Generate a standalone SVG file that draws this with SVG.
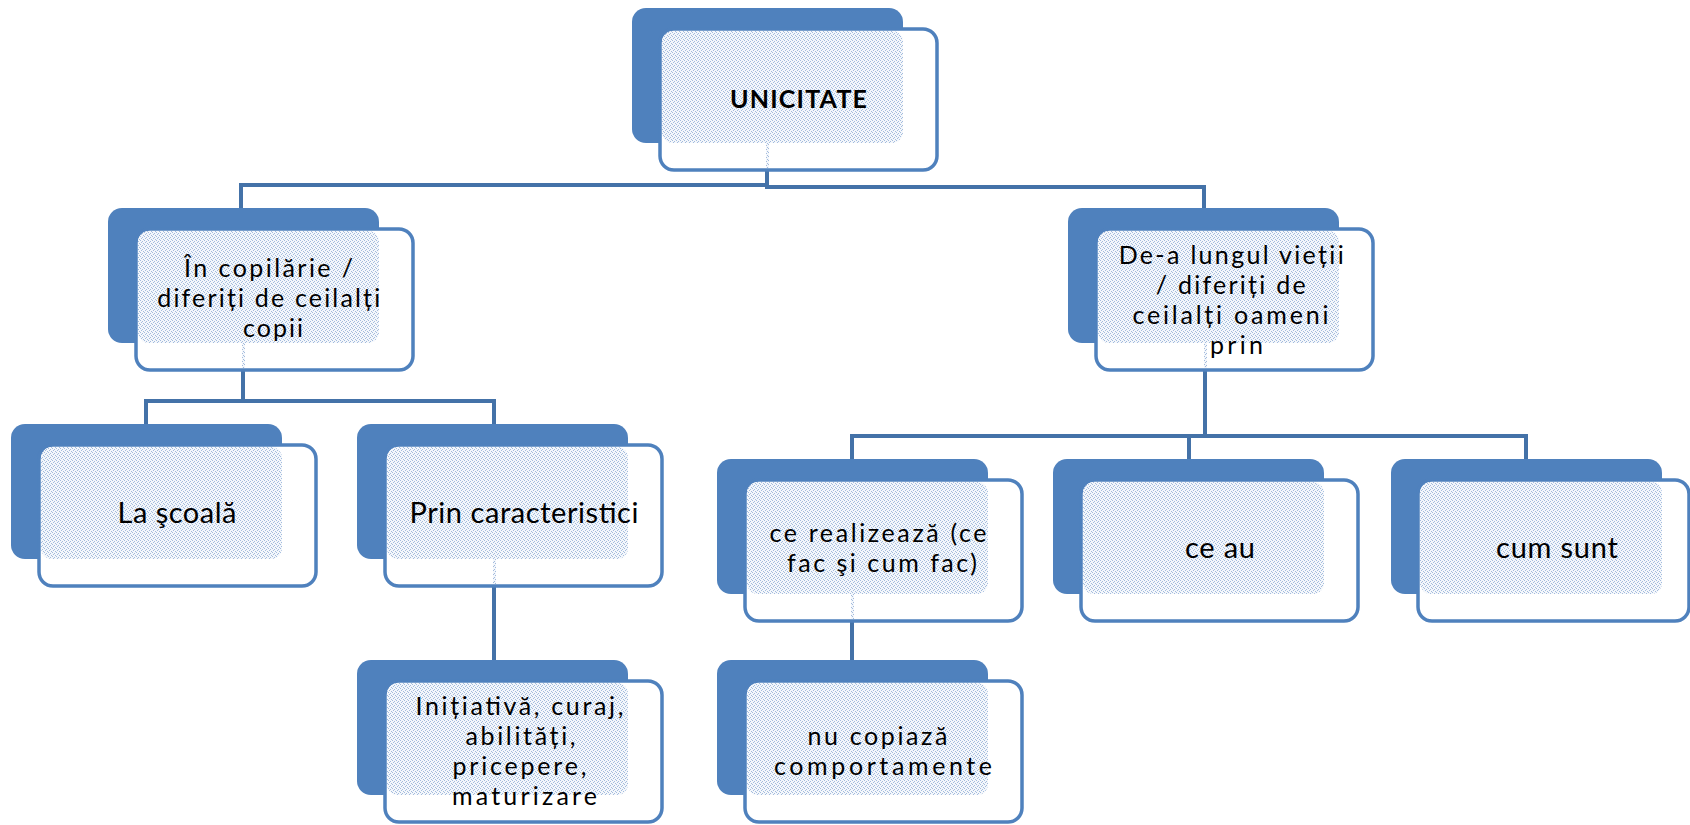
<svg xmlns="http://www.w3.org/2000/svg" width="1690" height="825" viewBox="0 0 1690 825">
  <defs>
    <!-- fine dotted texture used where the card overlaps its blue backing -->
    <pattern id="dots" width="4" height="4" patternUnits="userSpaceOnUse">
      <rect width="4" height="4" fill="#f4f7fb"/>
      <rect x="0" y="0" width="1" height="1" fill="#a3bbdd"/>
      <rect x="2" y="1" width="1" height="1" fill="#a3bbdd"/>
      <rect x="1" y="2" width="1" height="1" fill="#a3bbdd"/>
      <rect x="3" y="3" width="1" height="1" fill="#a3bbdd"/>
    </pattern>
    <style>
      .back { fill: #4f81bd; }
      .front { fill: #ffffff; stroke: #4f81bd; stroke-width: 3.5; }
      .tex { fill: url(#dots); }
      .link { fill: none; stroke: #4472a8; stroke-width: 4; }
      .lbl { font-family: "Lato", "Open Sans", "Liberation Sans", sans-serif; fill: #000000; text-anchor: middle; }
      .big { font-size: 29px; }
      .mid { font-size: 25px; }
      .title { font-size: 25px; font-weight: bold; }
    </style>
  </defs>

  <rect width="1690" height="825" fill="#ffffff"/>

  <!-- connectors -->
  <g id="connectors">
    <path class="link" d="M767,170 V187 H1204 V208"/>
    <path class="link" d="M767,185 H241 V208"/>
    <path class="link" d="M243,370 V401 H146 V424"/>
    <path class="link" d="M243,401 H494 V424"/>
    <path class="link" d="M494,585 V660"/>
    <path class="link" d="M1205,370 V436 H852 V459"/>
    <path class="link" d="M1205,436 H1526 V459"/>
    <path class="link" d="M1189,436 V459"/>
    <path class="link" d="M852,620 V660"/>
  </g>

  <!-- root -->
  <g id="node-unicitate">
    <rect class="back" x="632" y="8" width="271" height="135" rx="14"/>
    <rect class="front" x="660" y="29" width="277" height="141" rx="14"/>
    <rect class="tex" x="662" y="31" width="241" height="112" rx="11"/>
    <rect class="tex" x="766" y="143" width="3" height="25"/>
    <text class="lbl title" x="798.5" y="108" textLength="137" lengthAdjust="spacing">UNICITATE</text>
  </g>

  <g id="node-copilarie">
    <rect class="back" x="108" y="208" width="271" height="135" rx="14"/>
    <rect class="front" x="136" y="229" width="277" height="141" rx="14"/>
    <rect class="tex" x="138" y="231" width="241" height="112" rx="11"/>
    <rect class="tex" x="242" y="343" width="3" height="25"/>
    <text class="lbl mid">
      <tspan x="273" y="277" textLength="169" lengthAdjust="spacing">În copilărie /</tspan>
      <tspan x="273" y="307" textLength="223" lengthAdjust="spacing">diferiți de ceilalți</tspan>
      <tspan x="273" y="337" textLength="60" lengthAdjust="spacing">copii</tspan>
    </text>
  </g>

  <g id="node-scoala">
    <rect class="back" x="11" y="424" width="271" height="135" rx="14"/>
    <rect class="front" x="39" y="445" width="277" height="141" rx="14"/>
    <rect class="tex" x="41" y="447" width="241" height="112" rx="11"/>
    <text class="lbl big" x="177" y="523" textLength="119" lengthAdjust="spacing">La şcoală</text>
  </g>

  <g id="node-caracteristici">
    <rect class="back" x="357" y="424" width="271" height="135" rx="14"/>
    <rect class="front" x="385" y="445" width="277" height="141" rx="14"/>
    <rect class="tex" x="387" y="447" width="241" height="112" rx="11"/>
    <rect class="tex" x="493" y="559" width="3" height="25"/>
    <text class="lbl big" x="524" y="523" textLength="229" lengthAdjust="spacing">Prin caracteristici</text>
  </g>

  <g id="node-initiativa">
    <rect class="back" x="357" y="660" width="271" height="135" rx="14"/>
    <rect class="front" x="385" y="681" width="277" height="141" rx="14"/>
    <rect class="tex" x="387" y="683" width="241" height="112" rx="11"/>
    <text class="lbl mid">
      <tspan x="524" y="715" textLength="208" lengthAdjust="spacing">Inițiativă, curaj,</tspan>
      <tspan x="525" y="745" textLength="110" lengthAdjust="spacing">abilități,</tspan>
      <tspan x="524" y="775" textLength="134" lengthAdjust="spacing">pricepere,</tspan>
      <tspan x="524.5" y="805" textLength="145" lengthAdjust="spacing">maturizare</tspan>
    </text>
  </g>

  <g id="node-viata">
    <rect class="back" x="1068" y="208" width="271" height="135" rx="14"/>
    <rect class="front" x="1096" y="229" width="277" height="141" rx="14"/>
    <rect class="tex" x="1098" y="231" width="241" height="112" rx="11"/>
    <rect class="tex" x="1204" y="343" width="3" height="25"/>
    <text class="lbl mid">
      <tspan x="1235.5" y="264" textLength="225" lengthAdjust="spacing">De-a lungul vieții</tspan>
      <tspan x="1235" y="294" textLength="150" lengthAdjust="spacing">/ diferiți de</tspan>
      <tspan x="1235" y="324" textLength="196" lengthAdjust="spacing">ceilalți oameni</tspan>
      <tspan x="1236.5" y="354" textLength="53" lengthAdjust="spacing">prin</tspan>
    </text>
  </g>

  <g id="node-realizeaza">
    <rect class="back" x="717" y="459" width="271" height="135" rx="14"/>
    <rect class="front" x="745" y="480" width="277" height="141" rx="14"/>
    <rect class="tex" x="747" y="482" width="241" height="112" rx="11"/>
    <rect class="tex" x="851" y="594" width="3" height="25"/>
    <text class="lbl mid">
      <tspan x="882.5" y="542" textLength="217" lengthAdjust="spacing">ce realizează (ce</tspan>
      <tspan x="882" y="572" textLength="190" lengthAdjust="spacing">fac şi cum fac)</tspan>
    </text>
  </g>

  <g id="node-copiaza">
    <rect class="back" x="717" y="660" width="271" height="135" rx="14"/>
    <rect class="front" x="745" y="681" width="277" height="141" rx="14"/>
    <rect class="tex" x="747" y="683" width="241" height="112" rx="11"/>
    <text class="lbl mid">
      <tspan x="882" y="745" textLength="140" lengthAdjust="spacing">nu copiază</tspan>
      <tspan x="883" y="775" textLength="218" lengthAdjust="spacing">comportamente</tspan>
    </text>
  </g>

  <g id="node-ce-au">
    <rect class="back" x="1053" y="459" width="271" height="135" rx="14"/>
    <rect class="front" x="1081" y="480" width="277" height="141" rx="14"/>
    <rect class="tex" x="1083" y="482" width="241" height="112" rx="11"/>
    <text class="lbl big" x="1220" y="558" textLength="70" lengthAdjust="spacing">ce au</text>
  </g>

  <g id="node-cum-sunt">
    <rect class="back" x="1391" y="459" width="271" height="135" rx="14"/>
    <rect class="front" x="1418" y="480" width="271" height="141" rx="14"/>
    <rect class="tex" x="1420" y="482" width="242" height="112" rx="11"/>
    <text class="lbl big" x="1557" y="558" textLength="122" lengthAdjust="spacing">cum sunt</text>
  </g>
</svg>
